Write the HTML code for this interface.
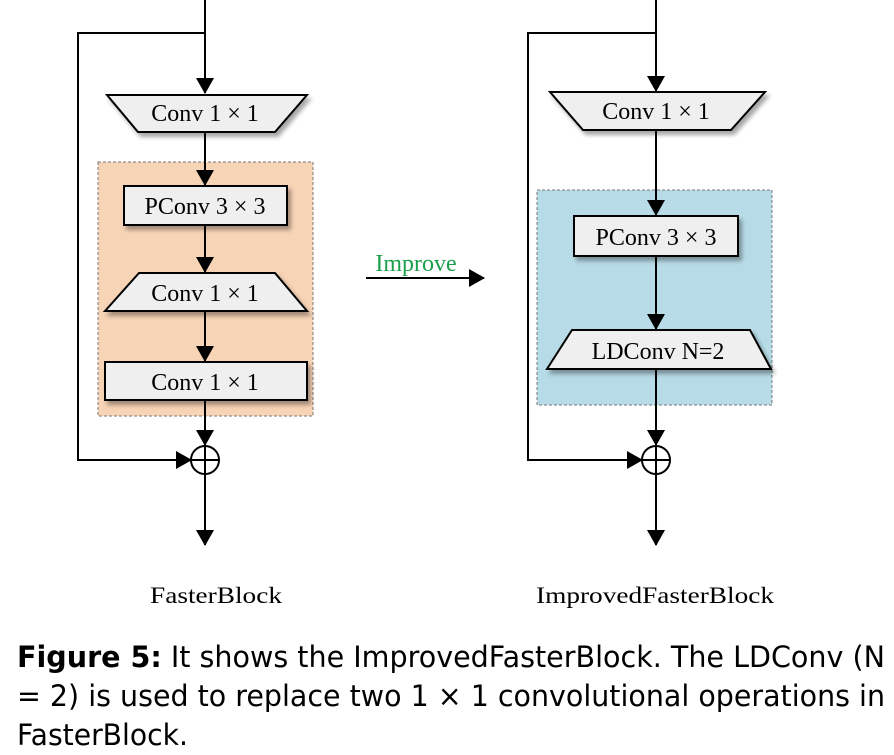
<!DOCTYPE html>
<html><head><meta charset="utf-8"><style>
body{margin:0;width:894px;height:755px;background:#fff;overflow:hidden;position:relative}
svg{position:absolute;left:0;top:0}
</style></head><body>
<svg width="894" height="755" viewBox="0 0 894 755" font-family="Liberation Serif, serif">
<defs>
<marker id="b" markerWidth="16" markerHeight="18" refX="15" refY="9" orient="auto" markerUnits="userSpaceOnUse"><path d="M0,0 L16,9 L0,18z" fill="#000"/></marker>
<filter id="s" x="-10%" y="-20%" width="130%" height="160%"><feDropShadow dx="3" dy="4" stdDeviation="2" flood-color="#000" flood-opacity="0.35"/></filter>
</defs>
<g stroke="#000" stroke-width="2" fill="none">
<rect x="98" y="162" width="215" height="254" fill="#f8d4b6" stroke="#777" stroke-width="1" stroke-dasharray="3,2"/>
<path d="M205,0 V93" marker-end="url(#b)"/>
<path d="M205,33 H78 V460 H191" marker-end="url(#b)"/>
<path d="M205,132 V185" marker-end="url(#b)"/>
<path d="M205,225 V272" marker-end="url(#b)"/>
<path d="M205,311 V361" marker-end="url(#b)"/>
<path d="M205,400 V445" marker-end="url(#b)"/>
<path d="M205,474 V545" marker-end="url(#b)"/>
<circle cx="205" cy="460" r="14" fill="#fff"/><path d="M191,460 H219 M205,446 V474"/>
<rect x="537" y="190" width="235" height="215" fill="#b7dce7" stroke="#777" stroke-width="1" stroke-dasharray="3,2"/>
<path d="M656,0 V91" marker-end="url(#b)"/>
<path d="M656,33 H528 V460 H642" marker-end="url(#b)"/>
<path d="M656,130 V215" marker-end="url(#b)"/>
<path d="M656,256 V329" marker-end="url(#b)"/>
<path d="M656,369 V445" marker-end="url(#b)"/>
<path d="M656,474 V545" marker-end="url(#b)"/>
<circle cx="656" cy="460" r="14" fill="#fff"/><path d="M642,460 H670 M656,446 V474"/>
<path d="M366,278 H484" marker-end="url(#b)"/>
</g>
<g fill="#efefef" stroke="#000" stroke-width="2" filter="url(#s)">
<polygon points="107,95 307,95 275,132 138,132"/>
<rect x="124" y="186" width="163" height="39"/>
<polygon points="139,273 275,273 307,311 105,311"/>
<rect x="105" y="362" width="202" height="38"/>
<polygon points="550,92 765,92 731,130 583,130"/>
<rect x="574" y="216" width="164" height="40"/>
<polygon points="572,330 750,330 771,369 547,369"/>
</g>
<g font-size="24" text-anchor="middle" fill="#000">
<text x="205" y="121">Conv 1 × 1</text>
<text x="205" y="214">PConv 3 × 3</text>
<text x="205" y="301">Conv 1 × 1</text>
<text x="205" y="390">Conv 1 × 1</text>
<text x="656" y="119">Conv 1 × 1</text>
<text x="656" y="245">PConv 3 × 3</text>
<text x="658" y="359">LDConv N=2</text>
<text x="416" y="271" fill="#1aa04a">Improve</text>
<text x="216" y="603" font-size="23" textLength="132" lengthAdjust="spacingAndGlyphs">FasterBlock</text>
<text x="655" y="603" font-size="23" textLength="238" lengthAdjust="spacingAndGlyphs">ImprovedFasterBlock</text>
</g>
<g font-family="DejaVu Sans, Liberation Sans, sans-serif" font-size="29" fill="#000">
<text x="17" y="667" textLength="868" lengthAdjust="spacingAndGlyphs"><tspan font-weight="bold">Figure 5:</tspan> It shows the ImprovedFasterBlock. The LDConv (N</text>
<text x="17" y="706" textLength="868" lengthAdjust="spacingAndGlyphs">= 2) is used to replace two 1 × 1 convolutional operations in</text>
<text x="17" y="745" textLength="171" lengthAdjust="spacingAndGlyphs">FasterBlock.</text>
</g>
</svg>
</body></html>
